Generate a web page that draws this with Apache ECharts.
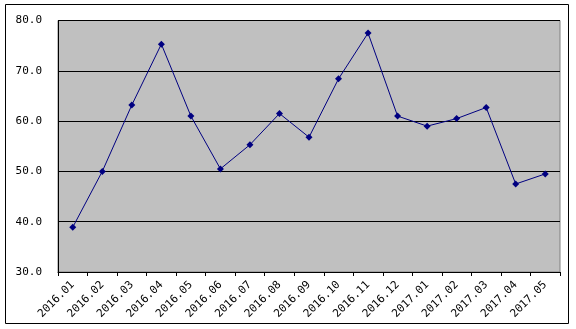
<!DOCTYPE html>
<html><head><meta charset="utf-8">
<script src="https://cdn.jsdelivr.net/npm/echarts@6/dist/echarts.min.js"></script>
<style>html,body{margin:0;padding:0;background:#fff}#c{width:576px;height:329px}</style>
</head><body><div id="c"></div>
<script>
var categories = ['2016.01','2016.02','2016.03','2016.04','2016.05','2016.06','2016.07','2016.08','2016.09','2016.10','2016.11','2016.12','2017.01','2017.02','2017.03','2017.04','2017.05'];
var values = [38.9, 50.0, 63.2, 75.3, 61.0, 50.5, 55.3, 61.5, 56.8, 68.4, 77.5, 61.0, 59.0, 60.5, 62.7, 47.5, 49.5];
var yMin = 30, yMax = 80, yStep = 10;

var chart = echarts.init(document.getElementById('c'), null, {renderer:'canvas'});
chart.setOption({
  animation: false,
  backgroundColor: '#fff',
  graphic: [{type:'rect', shape:{x:5.5,y:4.5,width:563,height:319}, style:{fill:'none', stroke:'#000', lineWidth:1}, silent:true}],
  grid: {left:58, top:20.5, right:16, bottom:57, show:true, backgroundColor:'#c0c0c0', borderColor:'#808080', borderWidth:1},
  xAxis: {
    type:'category', data:categories, boundaryGap:true,
    axisLine:{show:true, lineStyle:{color:'#000', width:1}},
    axisTick:{show:true, length:4, lineStyle:{color:'#000'}},
    axisLabel:{rotate:45, interval:0, fontFamily:'DejaVu Sans Mono', fontSize:11, color:'#000', margin:11},
    splitLine:{show:false}
  },
  yAxis: {
    type:'value', min:yMin, max:yMax, interval:yStep,
    axisLine:{show:true, lineStyle:{color:'#000', width:1}},
    axisTick:{show:false},
    axisLabel:{fontFamily:'DejaVu Sans Mono', fontSize:11, color:'#000', margin:16, formatter:function(v){return v.toFixed(1);}},
    splitLine:{show:true, lineStyle:{color:'#000', width:1}}
  },
  series: [{
    type:'line', data:values, symbol:'diamond', symbolSize:7,
    lineStyle:{color:'#000080', width:1}, itemStyle:{color:'#000080'}
  }]
});
</script></body></html>
